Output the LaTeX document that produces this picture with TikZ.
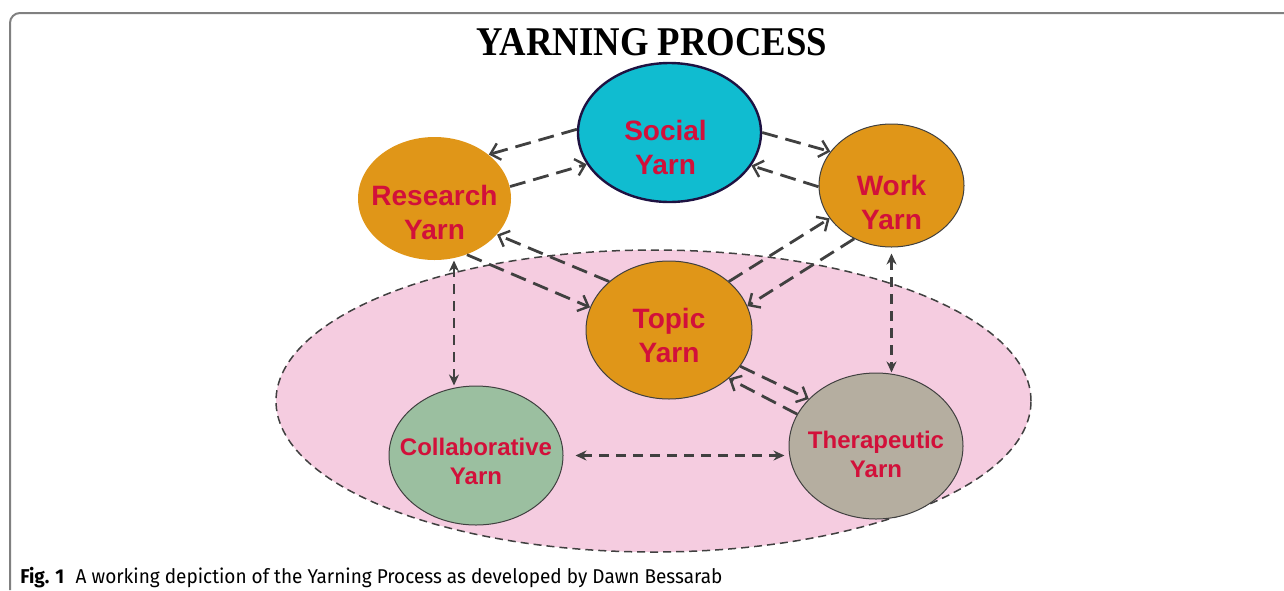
\documentclass[tikz,border=0pt]{standalone}
\usepackage{fontspec}
\usepackage{tikz}
\usetikzlibrary{shapes.geometric, arrows.meta, calc}

\newfontfamily\arialfont{Liberation Sans}
\newfontfamily\timesfont{Liberation Serif}
\newfontfamily\captionfont{Fira Sans}

\definecolor{socialcyan}{RGB}{16,188,208}
\definecolor{socialnavy}{RGB}{30,18,66}
\definecolor{yarnorange}{RGB}{224,150,24}
\definecolor{collabgreen}{RGB}{155,191,160}
\definecolor{therapygray}{RGB}{181,174,160}
\definecolor{zonepink}{RGB}{245,204,224}
\definecolor{yarnred}{RGB}{210,16,58}
\definecolor{arrowgray}{RGB}{64,64,64}
\definecolor{framegray}{RGB}{128,128,128}

\tikzset{
    yarn/.style={ellipse, draw=arrowgray, line width=0.5pt, inner sep=0pt},
    biglabel/.style={text=yarnred, align=center, font=\arialfont\bfseries\fontsize{14}{17}\selectfont},
    smalllabel/.style={text=yarnred, align=center, font=\arialfont\bfseries\fontsize{12}{14.5}\selectfont},
    oneway/.style={draw=arrowgray, line width=1.4pt, dash pattern=on 8pt off 4pt,
        -{Straight Barb[length=4.5pt, width=8.5pt, line width=1.2pt]}},
    twoway/.style={draw=arrowgray, line width=1.2pt, dash pattern=on 5pt off 3.5pt,
        {Stealth[length=5.5pt, width=5pt]}-{Stealth[length=5.5pt, width=5pt]}}
}

\begin{document}
\begin{tikzpicture}[x=0.5pt, y=-0.5pt]
    \useasboundingbox (0,0) rectangle (1284,590);

    % frame and texts
    \draw[framegray, line width=1pt, rounded corners=5pt] (10,590) |- (1284,13);
    \node[anchor=base, inner sep=0pt, font=\timesfont\bfseries\fontsize{20.4}{24}\selectfont]
        (title) at (652,55) {\scalebox{0.9}[1]{YARNING PROCESS}};
    \node[anchor=base west, inner sep=0pt, font=\captionfont\fontsize{10}{12}\selectfont]
        (caption) at (20,583) {\scalebox{0.95}[1]{\textbf{Fig. 1}\hspace{6pt}A working depiction of the Yarning Process as developed by Dawn Bessarab}};

    % pink zone
    \node[ellipse, fill=zonepink, draw=arrowgray, line width=0.75pt, dash pattern=on 4pt off 2.5pt,
        minimum width=377.5pt, minimum height=151pt] (zone) at (653.5,401) {};

    % yarns
    \node[yarn, fill=socialcyan, draw=socialnavy, line width=1.2pt, minimum width=91.5pt, minimum height=69.5pt,
        label={[biglabel, xshift=-2pt, yshift=-7.5pt]center:Social\\Yarn}] (social) at (669.5,132.5) {};
    \node[yarn, fill=yarnorange, draw=none, minimum width=76.5pt, minimum height=61.5pt,
        label={[biglabel, yshift=-7pt]center:Research\\Yarn}] (research) at (434.5,198.5) {};
    \node[yarn, fill=yarnorange, minimum width=72.5pt, minimum height=61.5pt,
        label={[biglabel, yshift=-8.5pt]center:Work\\Yarn}] (work) at (891.5,185.5) {};
    \node[yarn, fill=yarnorange, minimum width=83pt, minimum height=69pt,
        label={[biglabel, yshift=-2.5pt]center:Topic\\Yarn}] (topic) at (669,330) {};
    \node[yarn, fill=collabgreen, minimum width=87pt, minimum height=69.5pt,
        label={[smalllabel, yshift=-3pt]center:Collaborative\\Yarn}] (collab) at (476,455.5) {};
    \node[yarn, fill=therapygray, minimum width=87pt, minimum height=73pt,
        label={[smalllabel, yshift=-4pt]center:Therapeutic\\Yarn}] (therapeutic) at (876,446) {};

    % connectors
    \draw[oneway] (social.178) -- (research.39);
    \draw[oneway] (research.9) -- (social.201);
    \draw[oneway] (social.0) -- (work.151);
    \draw[oneway] (work.181) -- (social.338);
    \draw[oneway] (topic.141) -- (research.330);
    \draw[oneway] (research.300) -- (topic.164);
    \draw[oneway] (topic.39) -- (work.208);
    \draw[oneway] (work.235) -- (topic.17);
    \draw[oneway] (topic.333) -- (therapeutic.145);
    \draw[oneway] (therapeutic.158) -- (topic.321);
    \draw[twoway, shorten <=1pt] (research.288) -- (research.288 |- collab.north);
    \draw[twoway, shorten <=3pt] (work.south) -- (work.south |- therapeutic.north);
    \draw[twoway, shorten <=6pt, shorten >=2pt] (collab.east) -- (collab.east -| therapeutic.west);
\end{tikzpicture}
\end{document}
